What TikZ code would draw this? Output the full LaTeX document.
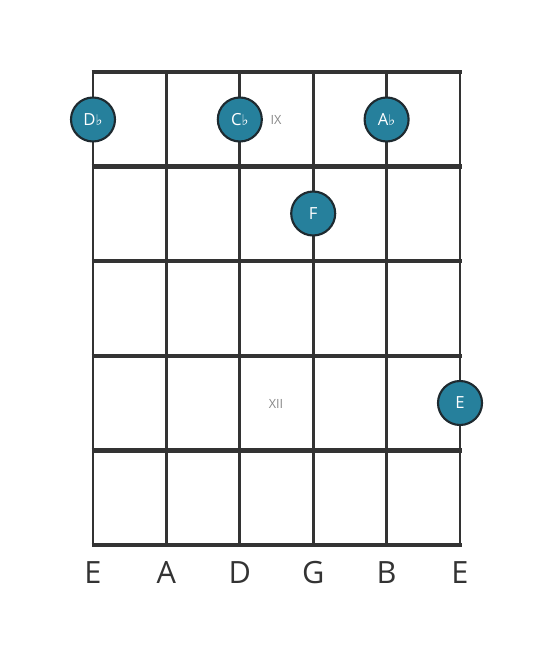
\documentclass[tikz,border=0pt]{standalone}
\usepackage{fontspec}
\setmainfont{Open Sans}
\newfontfamily\symfont{DejaVu Sans}
\definecolor{dotfill}{HTML}{26809C}
\definecolor{dotedge}{HTML}{1E2A30}
\definecolor{gridcol}{HTML}{333333}
\definecolor{fretnum}{HTML}{888888}
\tikzset{
  fretline/.style={draw=gridcol, line width=3.4pt},
  stringline/.style={draw=gridcol, line width=2.2pt},
  notedot/.style={circle, fill=dotfill, draw=dotedge, line width=1.6pt, minimum size=33pt, inner sep=0pt, text=white, font=\fontsize{12.5}{13}\selectfont},
  strlabel/.style={text=gridcol, font=\fontsize{23}{24}\selectfont},
  fretlabel/.style={text=fretnum, font=\fontsize{9.5}{10}\selectfont}
}
\newcommand{\flt}{{\symfont\fontsize{11}{11}\selectfont\raisebox{0.2pt}{♭}}}
\begin{document}
\begin{tikzpicture}[x=0.75pt,y=-0.75pt]
\useasboundingbox (0,0) rectangle (553,656);
% strings
\foreach \i/\x in {1/93,2/166.4,3/239.8,4/313.2,5/386.6,6/460}{
  \coordinate (s\i t) at (\x,72);
  \coordinate (s\i b) at (\x,545);
  \draw[stringline] (s\i t) -- (s\i b);
}
% frets
\foreach \j/\y in {0/72,1/166.6,2/261.2,3/355.8,4/450.4,5/545}{
  \coordinate (f\j l) at (91.5,\y);
  \coordinate (f\j r) at (461.5,\y);
  \draw[fretline] (f\j l) -- (f\j r);
}
% fret numbers
\node[fretlabel] (ix) at (276,120) {IX};
\node[fretlabel] (xii) at (276,404) {XII};
% dots
\node[notedot] (n1) at (93,119.5) {D\flt};
\node[notedot] (n2) at (239.8,119.5) {C\flt};
\node[notedot] (n3) at (386.6,119.5) {A\flt};
\node[notedot] (n4) at (313.2,213.5) {F};
\node[notedot] (n5) at (460,403) {E};
% string names
\node[strlabel] (l1) at (93,573) {E};
\node[strlabel] (l2) at (166.4,573) {A};
\node[strlabel] (l3) at (239.8,573) {D};
\node[strlabel] (l4) at (313.2,573) {G};
\node[strlabel] (l5) at (386.6,573) {B};
\node[strlabel] (l6) at (460,573) {E};
\end{tikzpicture}
\end{document}
